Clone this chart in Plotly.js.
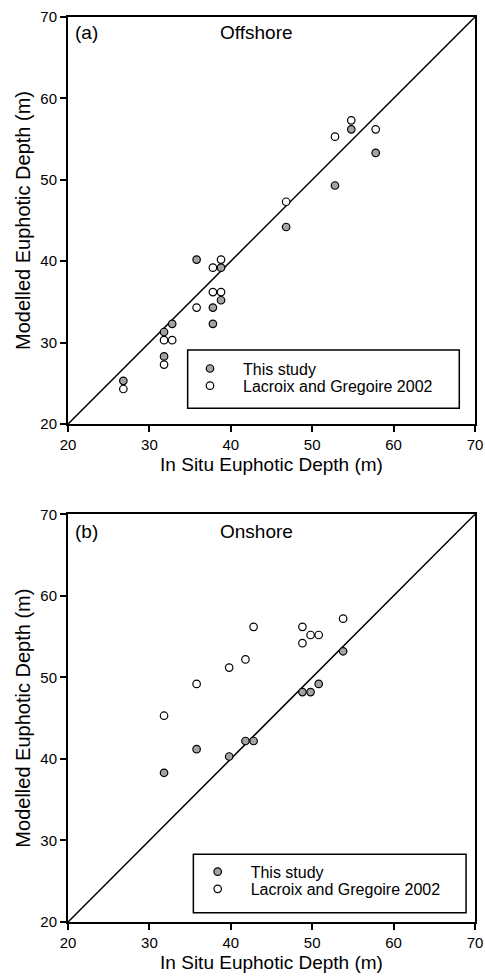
<!DOCTYPE html>
<html>
<head>
<meta charset="utf-8">
<script src="https://cdn.plot.ly/plotly-3.0.1.min.js"></script>
<style>html,body{margin:0;padding:0;background:#fff;}#chart{width:485px;height:978px;}</style>
</head>
<body>
<div id="chart"></div>
<script>
// ---- Data ----
const seriesNames = ["This study", "Lacroix and Gregoire 2002"];
const panelTitles = ["Offshore", "Onshore"];
const panelLabels = ["(a)", "(b)"];
const xAxisTitle = "In Situ Euphotic Depth (m)";
const yAxisTitle = "Modelled Euphotic Depth (m)";
const tickValues = [20, 30, 40, 50, 60, 70];

// Panel (a) Offshore
const studyOffX = [54.8, 57.8, 52.8, 46.8, 35.8, 38.8, 38.8, 37.8, 37.8, 32.8, 31.8, 31.8, 26.8];
const studyOffY = [56.2, 53.3, 49.3, 44.2, 40.2, 39.2, 35.2, 34.3, 32.3, 32.3, 31.3, 28.3, 25.3];
const lacroixOffX = [52.8, 54.8, 57.8, 46.8, 38.8, 37.8, 37.8, 38.8, 35.8, 31.8, 32.8, 31.8, 26.8];
const lacroixOffY = [55.3, 57.3, 56.2, 47.3, 40.2, 39.2, 36.2, 36.2, 34.3, 30.3, 30.3, 27.3, 24.3];

// Panel (b) Onshore
const studyOnX = [53.8, 50.8, 48.8, 49.8, 41.8, 42.8, 35.8, 39.8, 31.8];
const studyOnY = [53.2, 49.2, 48.2, 48.2, 42.2, 42.2, 41.2, 40.3, 38.3];
const lacroixOnX = [42.8, 48.8, 49.8, 50.8, 48.8, 53.8, 41.8, 39.8, 35.8, 31.8];
const lacroixOnY = [56.2, 56.2, 55.2, 55.2, 54.2, 57.2, 52.2, 51.2, 49.2, 45.3];

// 1:1 line
const oneToOneX = [20, 70];
const oneToOneY = [20, 70];

// ---- Styles ----
const FONT = "Liberation Sans, Arial, sans-serif";
const grayMarker = {symbol: "circle", size: 7.5, color: "#a3a3a3", line: {color: "#000", width: 1.2}};
const openMarker = {symbol: "circle", size: 7.5, color: "#ffffff", line: {color: "#000", width: 1.2}};

function scatter(x, y, xa, ya, name, marker, legend) {
  return {type: "scatter", mode: "markers", x: x, y: y, xaxis: xa, yaxis: ya,
          name: name, marker: marker, legend: legend, showlegend: true, hoverinfo: "x+y"};
}
function diag(xa, ya) {
  return {type: "scatter", mode: "lines", x: oneToOneX, y: oneToOneY, xaxis: xa, yaxis: ya,
          line: {color: "#000", width: 1.5}, showlegend: false, hoverinfo: "skip"};
}

const data = [
  diag("x", "y"),
  scatter(studyOffX, studyOffY, "x", "y", seriesNames[0], grayMarker, "legend"),
  scatter(lacroixOffX, lacroixOffY, "x", "y", seriesNames[1], openMarker, "legend2"),
  diag("x2", "y2"),
  scatter(studyOnX, studyOnY, "x2", "y2", seriesNames[0], grayMarker, "legend3"),
  scatter(lacroixOnX, lacroixOnY, "x2", "y2", seriesNames[1], openMarker, "legend4")
];

function xax(anchor) {
  return {anchor: anchor, domain: [0, 1], range: [20, 70], tickmode: "array", tickvals: tickValues,
          ticks: "outside", ticklen: 6, tickwidth: 1.5, tickcolor: "#000",
          showline: true, linewidth: 2, linecolor: "#000", mirror: true,
          showgrid: false, zeroline: false, automargin: false,
          tickfont: {family: FONT, size: 15, color: "#000"},
          title: {text: xAxisTitle, font: {family: FONT, size: 19, color: "#000"}, standoff: 6}};
}
function yax(anchor, domain) {
  return {anchor: anchor, domain: domain, range: [20, 70], tickmode: "array", tickvals: tickValues,
          ticks: "outside", ticklen: 6, tickwidth: 1.5, tickcolor: "#000",
          showline: true, linewidth: 2, linecolor: "#000", mirror: true,
          showgrid: false, zeroline: false, automargin: false,
          tickfont: {family: FONT, size: 15, color: "#000"},
          title: {text: yAxisTitle, font: {family: FONT, size: 20, color: "#000"}, standoff: 4}};
}
function leg(x, y) {
  return {x: x, y: y, xanchor: "left", yanchor: "middle", bgcolor: "rgba(0,0,0,0)",
          borderwidth: 0, itemwidth: 56, font: {family: FONT, size: 16, color: "#000"},
          itemclick: false, itemdoubleclick: false};
}
function ann(text, x, y, xa, ya, xanchor) {
  return {text: text, x: x, y: y, xref: xa + " domain", yref: ya + " domain", xanchor: xanchor,
          yanchor: "middle", showarrow: false, font: {family: FONT, size: 19, color: "#000"}};
}

const layout = {
  width: 485, height: 978,
  margin: {l: 68, r: 10, t: 17, b: 56},
  paper_bgcolor: "#fff", plot_bgcolor: "#fff",
  font: {family: FONT, color: "#000"},
  xaxis: xax("y"), yaxis: yax("x", [0.5503, 1]),
  xaxis2: xax("y2"), yaxis2: yax("x2", [0, 0.4505]),
  legend: leg(0.2678, 0.6115),
  legend2: leg(0.2678, 0.5925),
  legend3: leg(0.2867, 0.0555),
  legend4: leg(0.2867, 0.0365),
  shapes: [
    {type: "rect", xref: "x", yref: "y", x0: 34.7, x1: 68.07, y0: 21.93, y1: 29.1,
     line: {color: "#000", width: 1.5}, fillcolor: "rgba(0,0,0,0)", layer: "below"},
    {type: "rect", xref: "x2", yref: "y2", x0: 35.4, x1: 68.9, y0: 21.15, y1: 28.31,
     line: {color: "#000", width: 1.5}, fillcolor: "rgba(0,0,0,0)", layer: "below"}
  ],
  annotations: [
    ann(panelLabels[0], 0.0115, 0.961, "x", "y", "left"),
    ann(panelTitles[0], 0.4636, 0.961, "x", "y", "center"),
    ann(panelLabels[1], 0.0115, 0.957, "x2", "y2", "left"),
    ann(panelTitles[1], 0.462, 0.957, "x2", "y2", "center")
  ],
  showlegend: true
};

Plotly.newPlot("chart", data, layout, {displayModeBar: false, staticPlot: false});
</script>
</body>
</html>
